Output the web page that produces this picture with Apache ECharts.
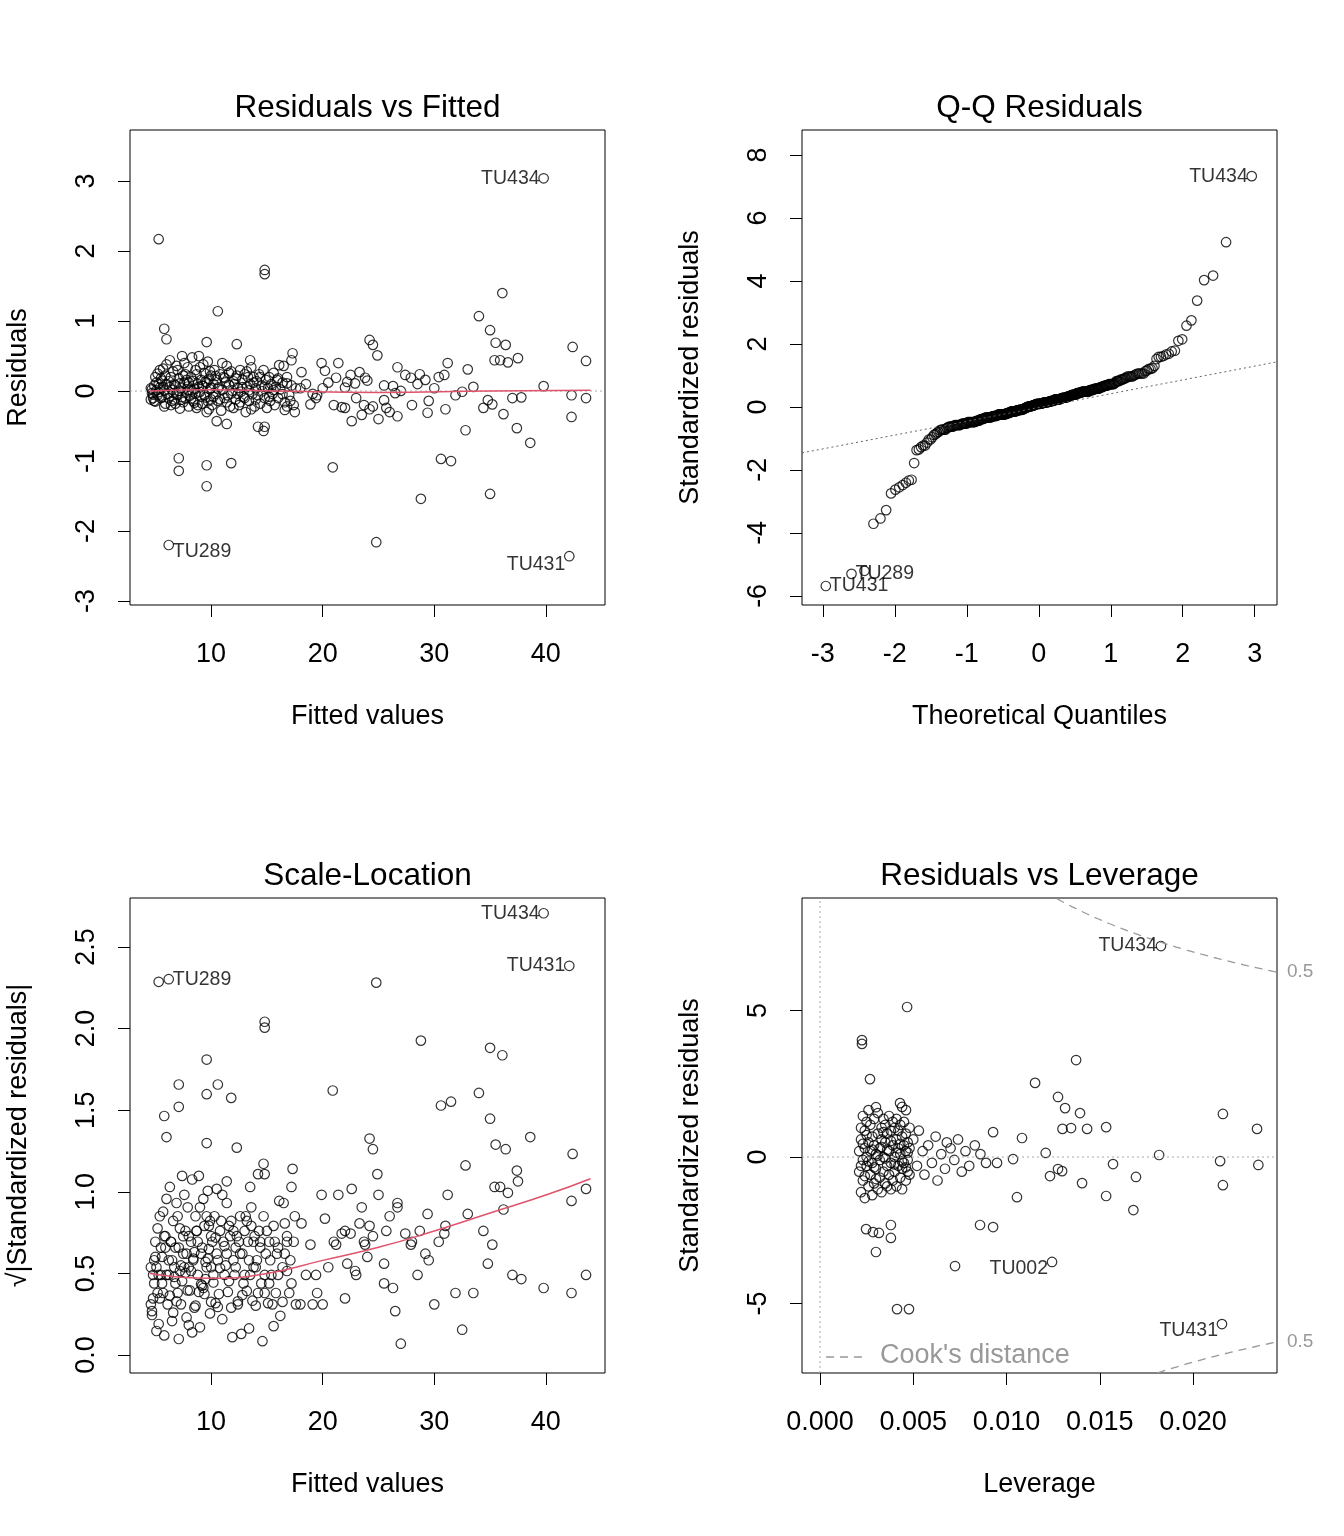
<!DOCTYPE html>
<html>
<head>
<meta charset="utf-8">
<script src="https://cdn.jsdelivr.net/npm/echarts@6/dist/echarts.min.js"></script>
<style>
html,body{margin:0;padding:0;background:#fff;}
#main{width:1344px;height:1536px;}
</style>
</head>
<body>
<div id="main"></div>
<script>
// fitted value, residual (panel 1 & 3, Q-Q derived from residuals)
var fittedResid = [
 [4.6,-0.12],[4.7,0.025],[4.8,-0.05],[4.9,0.08],[5.0,-0.15],[5.1,0.12],[5.2,0.25],[5.3,-0.015],[5.4,0.05],[5.5,0.18],
 [5.6,-0.08],[5.7,0.32],[5.8,0.006],[5.9,-0.18],[6.0,0.1],[4.6,0.04],[4.8,-0.1],[5.0,0.2],[5.2,-0.06],[5.4,0.3],
 [5.6,0.15],[5.8,-0.22],[6.0,0.38],[4.7,-0.03],[4.9,-0.14],[5.1,0.009],[5.3,0.1],[5.5,-0.1],[5.7,0.06],[5.9,0.22],
 [6.1,-0.04],[6.2,0.14],[6.3,0.44],[6.4,-0.2],[6.5,0.018],[6.6,0.28],[6.7,-0.12],[6.8,0.08],[6.9,0.36],[7.0,-0.06],
 [7.1,0.18],[7.2,-0.25],[7.3,0.04],[7.4,0.5],[7.5,-0.16],[7.6,0.12],[7.7,0.24],[7.8,-0.022],[7.9,0.065],[8.0,-0.22],
 [6.2,-0.1],[6.4,0.2],[6.6,-0.028],[6.8,-0.18],[7.0,0.3],[7.2,0.11],[7.4,-0.085],[7.6,0.4],[7.8,0.16],[8.0,0.014],
 [6.3,0.055],[6.5,-0.14],[6.7,0.095],[6.9,-0.045],[7.1,0.004],[7.3,-0.125],[7.5,0.22],[7.7,-0.105],[7.9,0.34],[8.0,0.12],
 [8.1,-0.065],[8.2,0.2],[8.3,0.48],[8.4,-0.14],[8.5,0.035],[8.6,0.3],[8.7,-0.24],[8.8,0.1],[8.9,0.5],[9.0,-0.012],
 [9.1,0.16],[9.2,-0.18],[9.3,0.07],[9.4,0.26],[9.5,-0.09],[9.6,0.12],[9.7,0.42],[9.8,-0.26],[9.9,0.027],[10.0,0.22],
 [8.2,-0.11],[8.4,0.145],[8.6,-0.038],[8.8,-0.2],[9.0,0.34],[9.2,0.075],[9.4,-0.058],[9.6,-0.3],[9.8,0.175],[10.0,-0.12],
 [8.3,0.008],[8.5,-0.165],[8.7,0.24],[8.9,0.062],[9.1,-0.078],[9.3,0.38],[9.5,0.135],[9.7,-0.145],[9.9,0.28],[10.0,0.044],
 [10.1,-0.2],[10.2,0.1],[10.3,0.3],[10.4,-0.042],[10.5,0.16],[10.6,-0.14],[10.7,0.058],[10.8,0.24],[10.9,-0.28],[11.0,0.02],
 [11.1,0.2],[11.2,-0.1],[11.3,0.125],[11.4,0.36],[11.5,-0.062],[11.6,0.085],[11.7,-0.22],[11.8,0.28],[11.9,0.005],[12.0,0.14],
 [10.2,-0.082],[10.4,0.215],[10.6,0.036],[10.8,-0.118],[11.0,0.4],[11.2,0.185],[11.4,-0.16],[11.6,0.26],[11.8,-0.035],[12.0,-0.24],
 [12.1,0.1],[12.2,-0.12],[12.3,0.22],[12.4,0.045],[12.5,-0.2],[12.6,0.3],[12.7,-0.007],[12.8,0.16],[12.9,-0.08],[13.0,0.24],
 [13.1,-0.3],[13.2,0.064],[13.3,0.2],[13.4,-0.14],[13.5,0.1],[13.6,0.34],[13.7,-0.046],[13.8,0.12],[13.9,-0.22],[14.0,0.038],
 [12.2,0.18],[12.4,-0.04],[12.6,-0.16],[12.8,0.056],[13.0,-0.1],[13.2,0.28],[13.4,0.011],[13.6,-0.26],[13.8,0.2],[14.0,-0.12],
 [14.1,0.14],[14.2,-0.06],[14.3,0.24],[14.4,-0.18],[14.5,0.08],[14.6,-0.003],[14.7,0.3],[14.8,-0.1],[14.9,0.16],[15.0,-0.24],
 [15.1,0.042],[15.2,0.2],[15.3,-0.14],[15.4,0.1],[15.5,-0.04],[15.6,0.26],[15.7,-0.2],[15.8,0.06],[15.9,0.16],[16.0,-0.1],
 [16.2,0.024],[16.4,0.12],[16.6,-0.16],[16.8,0.2],[17.0,-0.06],[17.2,0.08],[17.4,-0.2],[14.4,0.2],[14.8,0.06],[15.2,-0.08],
 [15.6,0.013],[16.0,0.18],[16.4,-0.044],[16.8,-0.22],
 [18.5,0.1],[19.5,-0.06],[20.5,0.12],[21.0,-0.2],[22.0,0.05],[23.0,-0.1],[24.0,0.15],[24.5,-0.22],[25.5,0.08],[26.0,-0.3],
 [27.0,0.002],[28.0,-0.2],[28.5,0.1],[29.5,-0.14],[30.0,0.04],[31.0,-0.26],[33.5,0.06],[37.0,-0.1],
 [39.8,3.04],[5.3,2.17],[14.8,1.73],[14.8,1.67],[10.6,1.14],[36.1,1.40],[34.0,1.07],[35.0,0.87],[35.5,0.69],[36.4,0.66],
 [37.5,0.47],[42.4,0.63],[43.6,0.43],[35.4,0.44],[35.9,0.44],[36.6,0.41],[5.8,0.89],[6.0,0.74],[9.6,0.70],[12.3,0.67],
 [24.2,0.73],[24.5,0.66],[24.9,0.51],[17.3,0.54],[33.0,0.31],[31.2,0.40],[39.8,0.07],[42.3,-0.06],[43.6,-0.1],[42.3,-0.37],
 [37.8,-0.09],[36.2,-0.33],[34.8,-0.13],[35.2,-0.19],[34.4,-0.24],[37.4,-0.53],[38.6,-0.74],[32.8,-0.56],[30.6,-0.97],[31.5,-1.0],
 [35.0,-1.47],[28.8,-1.54],[24.8,-2.16],[42.1,-2.36],[6.2,-2.2],[7.1,-0.96],[7.1,-1.14],[9.6,-1.06],[9.6,-1.36],[11.8,-1.03],
 [20.9,-1.09],[14.2,-0.51],[14.7,-0.57],[14.8,-0.51],[10.5,-0.43],[11.4,-0.47],[22.6,-0.43],[25.0,-0.4],[26.7,-0.36],[29.4,-0.31],
 [31.9,-0.06],[32.5,-0.01],[30.4,0.2],[30.9,0.23],[28.7,0.24],[29.2,0.16],[26.7,0.34],[27.4,0.23],[27.9,0.19],[26.3,0.07],
 [26.5,-0.03],[25.5,-0.13],[25.7,-0.24],[23.7,-0.2],[24.2,-0.26],[23.5,-0.34],[21.7,-0.23],[22.0,-0.24],[21.2,0.19],[22.2,0.13],
 [22.5,0.23],[22.9,0.11],[23.8,0.19],[23.3,0.27],[19.1,-0.04],[19.4,-0.1],[18.9,-0.19],[20.0,0.04],[20.2,0.29],[19.9,0.4],
 [21.4,0.4],[18.0,0.04],[18.1,0.27],[16.8,0.11],[17.6,0.04],[17.2,0.44],[16.1,0.37],[16.5,0.36],[13.5,0.44],[16.6,-0.27],
 [17.5,-0.3],[17.1,-0.14]
];
var sigma = 0.415;
// smoother lines
var smooth1 = [[4.5,0.0],[10,0.02],[16,0.0],[25,-0.02],[35,0.0],[44,0.01]];
var smooth3 = [[4.5,0.5],[10,0.47],[15,0.5],[20,0.58],[25,0.66],[30,0.76],[35,0.87],[40,0.98],[44,1.08]];
var qqLine = [-0.02, 0.438]; // intercept, slope
// leverage, standardized residual
var levStd = [
 [0.0021,0.2],[0.0021,-0.5],[0.0022,1.0],[0.0022,-1.2],[0.0022,0.6],[0.0023,-0.1],[0.0023,1.4],[0.0023,-0.8],[0.0024,0.3],[0.0024,-1.4],
 [0.0024,0.9],[0.0025,-0.3],[0.0025,1.2],[0.0025,0.0],[0.0026,-1.0],[0.0026,0.5],[0.0026,1.6],[0.0027,-0.6],[0.0027,0.2],[0.0027,1.1],
 [0.0028,-1.3],[0.0028,0.7],[0.0028,-0.2],[0.0029,1.3],[0.0029,-0.9],[0.0029,0.4],[0.0030,1.7],[0.0030,-0.4],[0.0030,0.1],[0.0031,-1.1],
 [0.0031,0.8],[0.0031,1.5],[0.0032,-0.7],[0.0032,0.3],[0.0032,-0.1],[0.0033,1.0],[0.0033,-1.2],[0.0033,0.6],[0.0034,-0.5],[0.0034,1.3],
 [0.0034,0.0],[0.0035,-0.9],[0.0035,0.5],[0.0035,1.1],[0.0036,-0.3],[0.0036,-1.0],[0.0036,0.8],[0.0037,1.4],[0.0037,-0.6],[0.0037,0.2],
 [0.0038,-1.1],[0.0038,0.9],[0.0038,-0.2],[0.0039,1.2],[0.0039,0.4],[0.0039,-0.8],[0.0040,0.0],[0.0040,1.0],[0.0040,-0.5],[0.0041,0.6],
 [0.0041,-1.0],[0.0041,1.3],[0.0042,-0.3],[0.0042,0.3],[0.0042,0.9],[0.0043,-0.7],[0.0043,1.1],[0.0043,0.1],[0.0044,-0.4],[0.0044,0.7],
 [0.0044,-1.1],[0.0045,0.4],[0.0045,-0.2],[0.0045,1.2],[0.0046,-0.8],[0.0046,0.2],[0.0046,0.8],[0.0047,-0.5],[0.0047,0.5],[0.0047,-0.1],
 [0.0048,0.3],[0.0048,-0.6],[0.0048,1.0],
 [0.0022,-0.3],[0.0023,0.45],[0.0025,0.75],[0.0026,-0.15],[0.0028,0.25],[0.0030,-0.75],[0.0031,0.05],[0.0033,0.35],[0.0035,-0.05],[0.0036,0.25],
 [0.0038,0.55],[0.0040,-0.25],[0.0041,0.15],[0.0043,0.45],[0.0044,-0.15],[0.0046,-0.35],[0.0047,0.15],[0.0024,-0.65],[0.0029,-0.35],[0.0034,0.85],
 [0.0050,0.6],[0.0052,-0.3],[0.0053,0.9],[0.0055,0.2],[0.0056,-0.6],[0.0058,0.4],[0.0060,-0.2],[0.0062,0.7],[0.0063,-0.8],[0.0065,0.1],
 [0.0067,-0.4],[0.0068,0.5],[0.0070,0.3],[0.0072,-0.1],[0.0074,0.6],[0.0076,-0.5],[0.0078,0.2],[0.0080,-0.3],[0.0083,0.4],[0.0086,0.1],[0.0089,-0.2],
 [0.01828,7.2],[0.00467,5.12],[0.00225,3.99],[0.00225,3.86],[0.00268,2.66],[0.01373,3.31],[0.01153,2.53],[0.01276,2.05],[0.01314,1.67],[0.01394,1.50],
 [0.0216,1.47],[0.02343,0.96],[0.01534,1.02],[0.0130,0.96],[0.01346,0.99],[0.01432,0.96],[0.01083,0.65],[0.00928,0.85],[0.01818,0.07],[0.01571,-0.24],
 [0.02145,-0.14],[0.0235,-0.27],[0.0216,-0.96],[0.01694,-0.68],[0.01405,-0.89],[0.01233,-0.65],[0.01276,-0.41],[0.01298,-0.48],[0.0121,0.14],[0.01035,-0.07],
 [0.00949,-0.2],[0.01534,-1.33],[0.0168,-1.81],[0.01056,-1.37],[0.00858,-2.32],[0.00928,-2.39],[0.00724,-3.72],[0.01244,-3.58],[0.00413,-5.19],[0.00477,-5.19],
 [0.02155,-5.70],[0.00247,-2.46],[0.00284,-2.56],[0.00316,-2.59],[0.0038,-2.32],[0.0038,-2.76],[0.003,-3.24],[0.00429,1.84],[0.0044,1.71],[0.00461,1.60]
];
var levLabels = [[0.01828,7.2,'TU434'],[0.01244,-3.58,'TU002'],[0.02155,-5.70,'TU431']];
var cookLevels = [0.5];
var nParams = 2;

// inverse normal (Acklam) for the Q-Q theoretical quantiles
function qnorm(p){
  var a=[-39.6968302866538,220.946098424521,-275.928510446969,138.357751867269,-30.6647980661472,2.50662827745924];
  var b=[-54.4760987982241,161.585836858041,-155.698979859887,66.8013118877197,-13.2806815528857];
  var c=[-0.00778489400243029,-0.322396458041136,-2.40075827716184,-2.54973253934373,4.37466414146497,2.93816398269878];
  var d=[0.00778469570904146,0.32246712907004,2.445134137143,3.75440866190742];
  var q,r;
  if(p<0.02425){q=Math.sqrt(-2*Math.log(p));return (((((c[0]*q+c[1])*q+c[2])*q+c[3])*q+c[4])*q+c[5])/((((d[0]*q+d[1])*q+d[2])*q+d[3])*q+1);}
  if(p>1-0.02425){q=Math.sqrt(-2*Math.log(1-p));return -(((((c[0]*q+c[1])*q+c[2])*q+c[3])*q+c[4])*q+c[5])/((((d[0]*q+d[1])*q+d[2])*q+d[3])*q+1);}
  q=p-0.5;r=q*q;
  return (((((a[0]*r+a[1])*r+a[2])*r+a[3])*r+a[4])*r+a[5])*q/(((((b[0]*r+b[1])*r+b[2])*r+b[3])*r+b[4])*r+1);
}

var n = fittedResid.length;
var stdRes = fittedResid.map(function(d){ return d[1]/sigma; });
var order = stdRes.map(function(v,i){ return i; }).sort(function(a,b){ return stdRes[a]-stdRes[b]; });
var qqData = [], qqPos = {};
order.forEach(function(idx,k){
  var t = qnorm((k+0.5)/n);
  qqData.push([t, stdRes[idx]]);
  qqPos[idx] = [t, stdRes[idx]];
});
var slData = fittedResid.map(function(d){ return [d[0], Math.sqrt(Math.abs(d[1]/sigma))]; });

// labelled observations found by residual size
var iMax = order[n-1], iMin = order[0], iMin2 = order[1];
var lab = [[iMax,'TU434'],[iMin,'TU431'],[iMin2,'TU289']];

var FONT = 'Liberation Sans, Arial, sans-serif';
var circle = {color:'transparent', borderColor:'#000', borderWidth:1.2};
var boxes = [[130,130],[802,130],[130,898],[802,898]];
var W = 475;

function xAx(i,min,max,ticks,name,fmt){
  return {type:'value', gridIndex:i, min:min, max:max, name:name, nameLocation:'middle', nameGap:52,
    nameTextStyle:{fontSize:27, color:'#000', fontFamily:FONT, padding:[46,0,0,0]},
    axisLine:{show:false, onZero:false}, splitLine:{show:false},
    axisTick:{show:true, inside:false, length:12, lineStyle:{color:'#000'}, customValues:ticks},
    axisLabel:{fontSize:27, color:'#000', fontFamily:FONT, margin:36, customValues:ticks, formatter:fmt}};
}
function yAx(i,min,max,ticks,name,fmt){
  return {type:'value', gridIndex:i, min:min, max:max, name:name, nameLocation:'middle', nameGap:98,
    nameTextStyle:{fontSize:27, color:'#000', fontFamily:FONT},
    axisLine:{show:false, onZero:false}, splitLine:{show:false},
    axisTick:{show:true, inside:false, length:12, lineStyle:{color:'#000'}, customValues:ticks},
    axisLabel:{fontSize:27, color:'#000', fontFamily:FONT, margin:30, rotate:90, customValues:ticks, formatter:fmt}};
}
function labelSeries(i,pts,pos){
  return {type:'scatter', xAxisIndex:i, yAxisIndex:i, symbolSize:0, silent:true, z:5,
    data:pts.map(function(p,k){ return {value:[p[0],p[1]], name:p[2],
      label:{show:true, formatter:p[2], position:pos[k][0], offset:pos[k][1], distance:4,
        fontSize:19.5, color:'#000', fontFamily:FONT}}; })};
}

var p1 = lab.map(function(l){ return [fittedResid[l[0]][0], fittedResid[l[0]][1], l[1]]; });
var p2 = lab.map(function(l){ return [qqPos[l[0]][0], qqPos[l[0]][1], l[1]]; });
var p3 = lab.map(function(l){ return [slData[l[0]][0], slData[l[0]][1], l[1]]; });

// Cook's distance contours
var cookUp = [], cookDn = [];
for (var h = 0.0005; h <= 0.0245; h += 0.0002) {
  var v = Math.sqrt(cookLevels[0]*nParams*(1-h)/h);
  if (v <= 8.84) cookUp.push([h, v]);
  if (v <= 7.37) cookDn.push([h, -v]);
}
cookUp.push([0.0245, Math.sqrt(cookLevels[0]*nParams*(1-0.0245)/0.0245)]);
cookDn.push([0.0245, -Math.sqrt(cookLevels[0]*nParams*(1-0.0245)/0.0245)]);

var chart = echarts.init(document.getElementById('main'));
var titles = ['Residuals vs Fitted','Q-Q Residuals','Scale-Location','Residuals vs Leverage'];
chart.setOption({
  backgroundColor:'#fff',
  animation:false,
  title: titles.map(function(t,i){
    return {text:t, left:boxes[i][0]+W/2-5, top:boxes[i][1]-43, textAlign:'center',
      textStyle:{fontSize:31.5, fontWeight:'normal', color:'#000', fontFamily:FONT}};
  }),
  grid: boxes.map(function(b){
    return {left:b[0], top:b[1], width:W, height:W, show:true, borderColor:'#000', borderWidth:1, backgroundColor:'transparent'};
  }),
  xAxis:[
    xAx(0,2.73,45.3,[10,20,30,40],'Fitted values'),
    xAx(1,-3.29,3.31,[-3,-2,-1,0,1,2,3],'Theoretical Quantiles'),
    xAx(2,2.73,45.3,[10,20,30,40],'Fitted values'),
    xAx(3,-0.000965,0.0245,[0,0.005,0.01,0.015,0.02],'Leverage',function(v){return v.toFixed(3);})
  ],
  yAxis:[
    yAx(0,-3.057,3.73,[-3,-2,-1,0,1,2,3],'Residuals'),
    yAx(1,-6.29,8.79,[-6,-4,-2,0,2,4,6,8],'Standardized residuals'),
    yAx(2,-0.11,2.80,[0,0.5,1,1.5,2,2.5],'\u221A|Standardized residuals|',function(v){return v.toFixed(1);}),
    yAx(3,-7.37,8.84,[-5,0,5],'Standardized residuals')
  ],
  series:[
    {type:'line', xAxisIndex:0, yAxisIndex:0, data:[[2.73,0],[45.3,0]], symbol:'none', silent:true,
      lineStyle:{color:'#aaa', width:1, type:[2,3]}},
    {type:'scatter', xAxisIndex:0, yAxisIndex:0, data:fittedResid, symbol:'circle', symbolSize:9.5, itemStyle:circle},
    {type:'line', xAxisIndex:0, yAxisIndex:0, data:smooth1, symbol:'none', smooth:true, lineStyle:{color:'#DF536B', width:1.5}},
    labelSeries(0,p1,[['left',[0,0]],['left',[0,8]],['right',[0,7]]]),

    {type:'line', xAxisIndex:1, yAxisIndex:1, symbol:'none', silent:true,
      data:[[-3.29,qqLine[0]+qqLine[1]*-3.29],[3.31,qqLine[0]+qqLine[1]*3.31]],
      lineStyle:{color:'#666', width:1, type:[2,3]}},
    {type:'scatter', xAxisIndex:1, yAxisIndex:1, data:qqData, symbol:'circle', symbolSize:9.5, itemStyle:circle},
    labelSeries(1,p2,[['left',[0,0]],['right',[0,0]],['right',[0,0]]]),

    {type:'scatter', xAxisIndex:2, yAxisIndex:2, data:slData, symbol:'circle', symbolSize:9.5, itemStyle:circle},
    {type:'line', xAxisIndex:2, yAxisIndex:2, data:smooth3, symbol:'none', smooth:true, lineStyle:{color:'#DF536B', width:1.5}},
    labelSeries(2,p3,[['left',[0,0]],['left',[0,0]],['right',[0,0]]]),

    {type:'line', xAxisIndex:3, yAxisIndex:3, data:[[-0.000965,0],[0.0245,0]], symbol:'none', silent:true,
      lineStyle:{color:'#aaa', width:1, type:[2,3]}},
    {type:'line', xAxisIndex:3, yAxisIndex:3, data:[[0,-7.37],[0,8.84]], symbol:'none', silent:true,
      lineStyle:{color:'#aaa', width:1, type:[2,3]}},
    {type:'scatter', xAxisIndex:3, yAxisIndex:3, data:levStd, symbol:'circle', symbolSize:9.5, itemStyle:circle},
    {type:'line', xAxisIndex:3, yAxisIndex:3, data:cookUp, symbol:'none', silent:true, clip:true,
      lineStyle:{color:'#999', width:1.3, type:[8,6]},
      endLabel:{show:true, formatter:'0.5', color:'#999', fontSize:19, fontFamily:FONT, distance:10}},
    {type:'line', xAxisIndex:3, yAxisIndex:3, data:cookDn, symbol:'none', silent:true, clip:true,
      lineStyle:{color:'#999', width:1.3, type:[8,6]},
      endLabel:{show:true, formatter:'0.5', color:'#999', fontSize:19, fontFamily:FONT, distance:10}},
    labelSeries(3,levLabels,[['left',[0,0]],['left',[0,7]],['left',[0,7]]])
  ],
  graphic:[
    {type:'line', shape:{x1:826, y1:1357, x2:868, y2:1357}, style:{stroke:'#999', lineWidth:1.3, lineDash:[8,6]}},
    {type:'text', left:880, top:1342, style:{text:"Cook's distance", fill:'#999', fontSize:27, fontFamily:FONT}}
  ]
});
</script>
</body>
</html>
